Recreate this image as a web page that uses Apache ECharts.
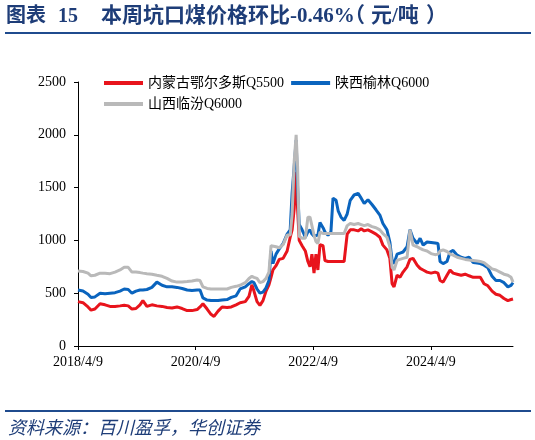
<!DOCTYPE html>
<html>
<head>
<meta charset="utf-8">
<script src="https://cdn.jsdelivr.net/npm/echarts@6/dist/echarts.min.js"></script>
<style>
html,body{margin:0;padding:0;background:#fff;}
#chart{width:535px;height:440px;}
</style>
</head>
<body>
<div id="chart"></div>
<script>
// ---- data ----
const dates = [
'2018-04-09','2018-05-10','2018-06-10','2018-06-29','2018-07-23','2018-08-24','2018-09-24','2018-10-25','2018-11-25','2018-12-26',
'2019-01-21','2019-02-15','2019-03-10','2019-04-04','2019-04-29','2019-05-17','2019-06-11','2019-07-12','2019-08-12','2019-09-13',
'2019-10-14','2019-11-14','2019-12-15','2020-01-16','2020-02-16','2020-03-17','2020-04-18','2020-05-06','2020-05-24','2020-06-19',
'2020-07-13','2020-08-01','2020-08-26','2020-09-20','2020-10-21','2020-11-16','2020-12-16','2021-01-10','2021-02-11','2021-03-06',
'2021-03-24','2021-04-06','2021-04-25','2021-05-13','2021-06-01','2021-06-20','2021-07-08','2021-07-21','2021-08-02','2021-08-21',
'2021-09-10','2021-10-04','2021-10-29','2021-11-17','2021-11-29','2021-12-12','2021-12-24','2022-01-02','2022-01-12','2022-01-30',
'2022-02-19','2022-03-07','2022-03-20','2022-04-01','2022-04-14','2022-04-26','2022-05-08','2022-05-21','2022-06-09','2022-06-21',
'2022-07-10','2022-07-28','2022-08-10','2022-08-29','2022-09-11','2022-09-29','2022-10-18','2022-11-06','2022-11-25','2022-12-19',
'2023-01-13','2023-02-01','2023-02-20','2023-03-15','2023-04-09','2023-05-04','2023-05-28','2023-06-16','2023-07-11','2023-07-29',
'2023-08-12','2023-08-24','2023-09-12','2023-09-30','2023-10-19','2023-11-13','2023-12-01','2023-12-20','2024-01-15','2024-02-02',
'2024-02-21','2024-03-16','2024-04-10','2024-05-05','2024-05-23','2024-06-05','2024-06-24','2024-07-18','2024-08-06','2024-08-25',
'2024-09-19','2024-10-14','2024-11-08','2024-12-02','2024-12-28','2025-01-22','2025-02-10','2025-03-05','2025-03-29','2025-04-24',
'2025-05-18','2025-06-12','2025-07-07','2025-07-31','2025-08-20','2025-09-01'
];
// 内蒙古鄂尔多斯Q5500
const ordos = [
420,410,370,340,350,400,390,375,375,380,
385,380,350,355,390,430,375,390,380,375,
365,360,370,355,335,335,345,370,400,350,
300,280,330,370,365,370,390,410,420,470,
580,520,420,385,430,520,580,650,720,760,
820,830,900,1030,1100,1300,1650,1300,1000,950,
900,800,750,870,690,870,720,960,950,810,
800,800,800,800,800,800,800,1060,1100,1100,
1090,1110,1090,1100,1080,1060,1030,955,910,830,
590,560,670,650,700,750,820,830,765,735,
720,700,690,700,690,620,605,670,720,690,
680,670,680,665,650,650,650,590,570,520,
490,480,450,430,440,445
];
// 陕西榆林Q6000
const yulin = [
530,520,490,460,465,500,495,500,505,520,
540,535,500,520,530,530,535,555,605,575,
560,560,555,545,530,525,530,530,455,435,
430,430,430,435,440,460,475,540,560,590,
610,600,540,500,510,550,620,900,780,870,
920,970,1060,1100,1450,1700,1950,1500,1150,1100,
1030,1080,1100,1060,1040,1030,1050,1170,1120,1080,
1050,1080,1400,1380,1280,1220,1190,1250,1380,1430,
1445,1400,1350,1385,1340,1290,1240,1160,1100,985,
810,780,870,880,890,940,1100,1020,970,1020,
955,985,980,975,970,800,780,800,890,905,
860,840,830,840,790,785,780,765,740,660,
620,620,600,560,575,600
];
// 山西临汾Q6000
const linfen = [
710,705,690,665,670,690,690,685,700,720,
745,745,700,700,695,690,685,680,670,660,
640,615,605,605,610,615,625,620,560,545,
540,540,540,540,540,555,565,575,600,640,
660,650,640,600,610,640,700,950,960,940,
930,960,1050,1050,1250,1750,2000,1700,1040,1020,
1020,1220,1220,1220,1050,990,970,1080,1065,1065,
1065,1065,1065,1065,1065,1065,1065,1140,1160,1150,
1160,1150,1140,1150,1130,1120,1100,1065,1030,940,
745,720,810,820,830,840,1100,955,940,925,
910,900,875,865,870,900,910,895,870,860,
840,830,820,815,810,805,800,790,760,730,
720,700,680,670,650,605
];
const seriesNames = ['内蒙古鄂尔多斯Q5500','陕西榆林Q6000','山西临汾Q6000'];
const seriesColors = ['#E8141C','#0A64BE','#B9B9B9'];
const xTickLabels = ['2018/4/9','2020/4/9','2022/4/9','2024/4/9'];
const yTicks = [0,500,1000,1500,2000,2500];

function toTs(s){
  const p = s.split(/[-\/]/).map(Number);
  return Date.UTC(p[0], p[1]-1, p[2]);
}
const xTickValues = xTickLabels.map(toTs);
const labelByTs = {};
xTickLabels.forEach((l,i)=>{ labelByTs[xTickValues[i]] = l; });
const serif = '"Liberation Serif","Noto Sans CJK SC",serif';
const navy = '#1E3D78';
const titleStyle = (t, size)=>({text:t,fontSize:size,fontWeight:'bold',fill:navy,fontFamily:serif,textVerticalAlign:'middle'});

const chart = echarts.init(document.getElementById('chart'), null, {renderer:'canvas'});
const values = [ordos, yulin, linfen];
chart.setOption({
  backgroundColor:'#fff',
  animation:false,
  graphic:[
    {type:'text',x:6,y:17,style:titleStyle('图表',20)},
    {type:'text',x:58,y:17,style:titleStyle('15',20)},
    {type:'text',x:101,y:17,style:titleStyle('本周坑口煤价格环比-0.46%',21)},
    {type:'text',x:344,y:17,style:titleStyle('（',21)},
    {type:'text',x:371,y:17,style:titleStyle('元/吨',21)},
    {type:'text',x:426,y:17,style:titleStyle('）',21)},
    {type:'rect',shape:{x:5,y:32,width:526,height:2},style:{fill:'#1F4B8E'}},
    {type:'rect',shape:{x:5,y:410,width:526,height:2},style:{fill:'#1F4B8E'}},
    {type:'text',x:8,y:429,style:{text:'资料来源：百川盈孚，华创证券',fontSize:18,fontStyle:'italic',fill:navy,fontFamily:serif,textVerticalAlign:'middle'}}
  ],
  legend:{
    left:99, top:71, width:340,
    icon:'rect', itemWidth:39, itemHeight:4, itemGap:7,
    textStyle:{fontSize:14,color:'#000',fontFamily:serif},
    data:seriesNames
  },
  grid:{left:78,right:22,top:82,bottom:94,containLabel:false},
  xAxis:{
    type:'value',
    min:toTs('2018-04-09'), max:toTs('2025-09-01'),
    splitLine:{show:false},
    axisLine:{lineStyle:{color:'#000',width:1}},
    axisTick:{show:true,length:4,lineStyle:{color:'#000'},customValues:xTickValues},
    axisLabel:{
      customValues:xTickValues,
      fontSize:14,color:'#000',fontFamily:serif,margin:9,
      formatter:function(v){ return labelByTs[v] || ''; }
    }
  },
  yAxis:{
    type:'value',min:yTicks[0],max:yTicks[yTicks.length-1],interval:500,
    splitLine:{show:false},
    axisLine:{show:true,lineStyle:{color:'#000',width:1}},
    axisTick:{show:true,length:4,lineStyle:{color:'#000'}},
    axisLabel:{fontSize:14,color:'#000',fontFamily:serif,margin:12,formatter:function(v){return String(v);}}
  },
  series: seriesNames.map((n,i)=>({
    name:n,type:'line',showSymbol:false,symbol:'none',
    lineStyle:{width:3,color:seriesColors[i]},
    itemStyle:{color:seriesColors[i]},
    data: dates.map((d,j)=>[toTs(d), values[i][j]])
  }))
});
</script>
</body>
</html>
